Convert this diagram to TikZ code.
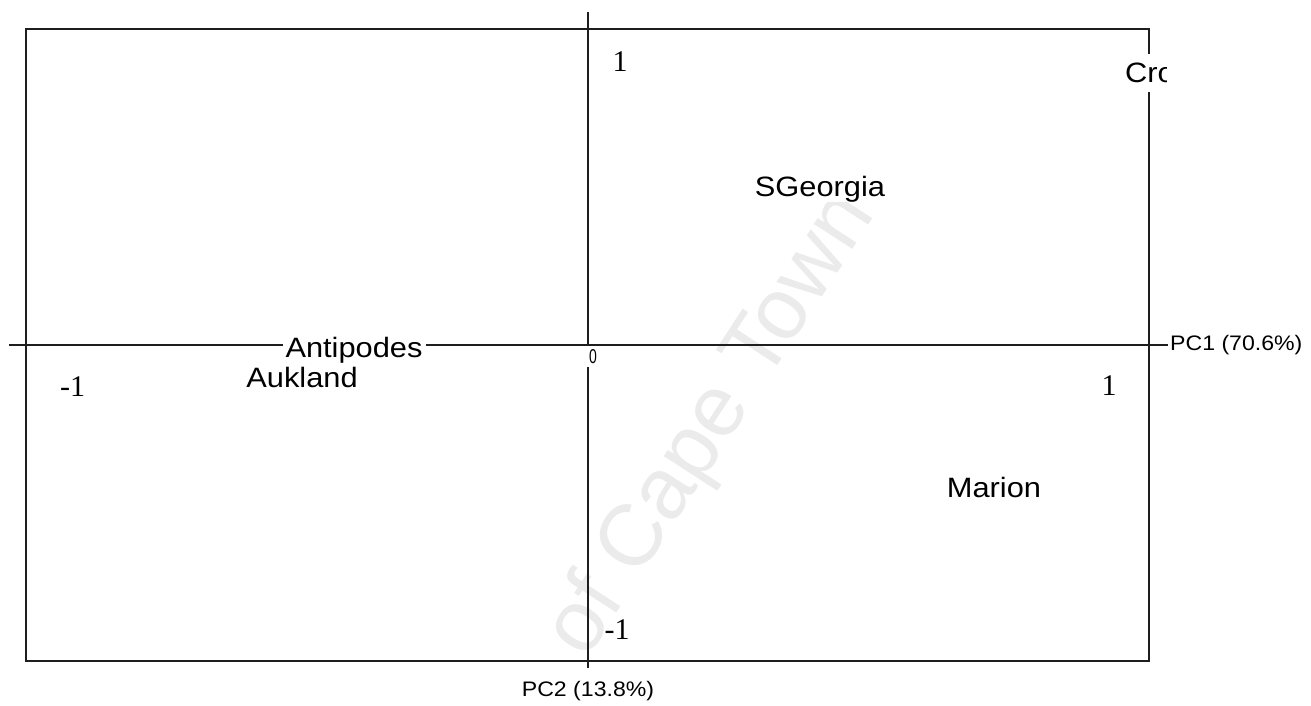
\documentclass[tikz,border=0pt]{standalone}
\usepackage{fontspec}
\setmainfont{Liberation Serif}
\newfontfamily\labfont[FakeStretch=1.1]{Liberation Sans}
\newfontfamily\narrowsans[FakeStretch=0.7]{Liberation Sans}
\newfontfamily\plainsans{Liberation Sans}
\usetikzlibrary{positioning}
\definecolor{AxisGrey}{RGB}{30,30,30}
\definecolor{MarkGrey}{RGB}{235,235,235}

\begin{document}
\begin{tikzpicture}[
x=1pt,y=-1pt,
axis/.style={draw=AxisGrey,line width=1.3pt},
site/.style={font=\labfont\fontsize{28}{28}\selectfont,fill=white,inner xsep=3pt,inner ysep=0pt,anchor=base},
tick/.style={font=\fontsize{30}{30}\selectfont,inner sep=0pt,anchor=base},
pclabel/.style={font=\labfont\fontsize{21}{21}\selectfont,inner sep=1pt}
]
\useasboundingbox (0,0) rectangle (1311,706);
% watermark
\node[font=\plainsans\fontsize{87}{87}\selectfont,text=MarkGrey,rotate=57,anchor=mid] (mark) at (729,436) {of Cape Town};

% frame and axes
\draw[axis] (26,29) rectangle (1149,661);
\coordinate (xl) at (9,345);
\coordinate (xr) at (1168,345);
\coordinate (yt) at (588,12);
\coordinate (yb) at (588,668);
\draw[axis] (xl) -- (xr);
\draw[axis] (yt) -- (yb);
\node[pclabel,right=1pt of xr] (pc1) {PC1 (70.6\%)};
\node[pclabel,below=12pt of yb] (pc2) {PC2 (13.8\%)};

% scale marks
\node[fill=white,font=\narrowsans\fontsize{20}{20}\selectfont,minimum width=12pt,minimum height=20.5pt,inner sep=0pt] (zero) at (593,356.5) {0};
\node[tick,anchor=base west] (xmin) at (60,396) {-1};
\node[tick] (xmax) at (1109,395) {1};
\node[tick] (ymax) at (620,72) {1};
\node[tick] (ymin) at (617,639) {-1};

% sites
\node[site] (antipodes) at (354,357) {Antipodes};
\node[site,fill=none] (aukland) at (302,387) {Aukland};
\node[site] (sgeorgia) at (820,196) {SGeorgia};
\node[site] (marion) at (994,497) {Marion};
\begin{scope}
\clip (1100,40) rectangle (1166,100);
\node[site,anchor=base west,inner xsep=0pt,inner ysep=9pt] (crozet) at (1125,83) {Cro};
\end{scope}
\end{tikzpicture}
\end{document}
